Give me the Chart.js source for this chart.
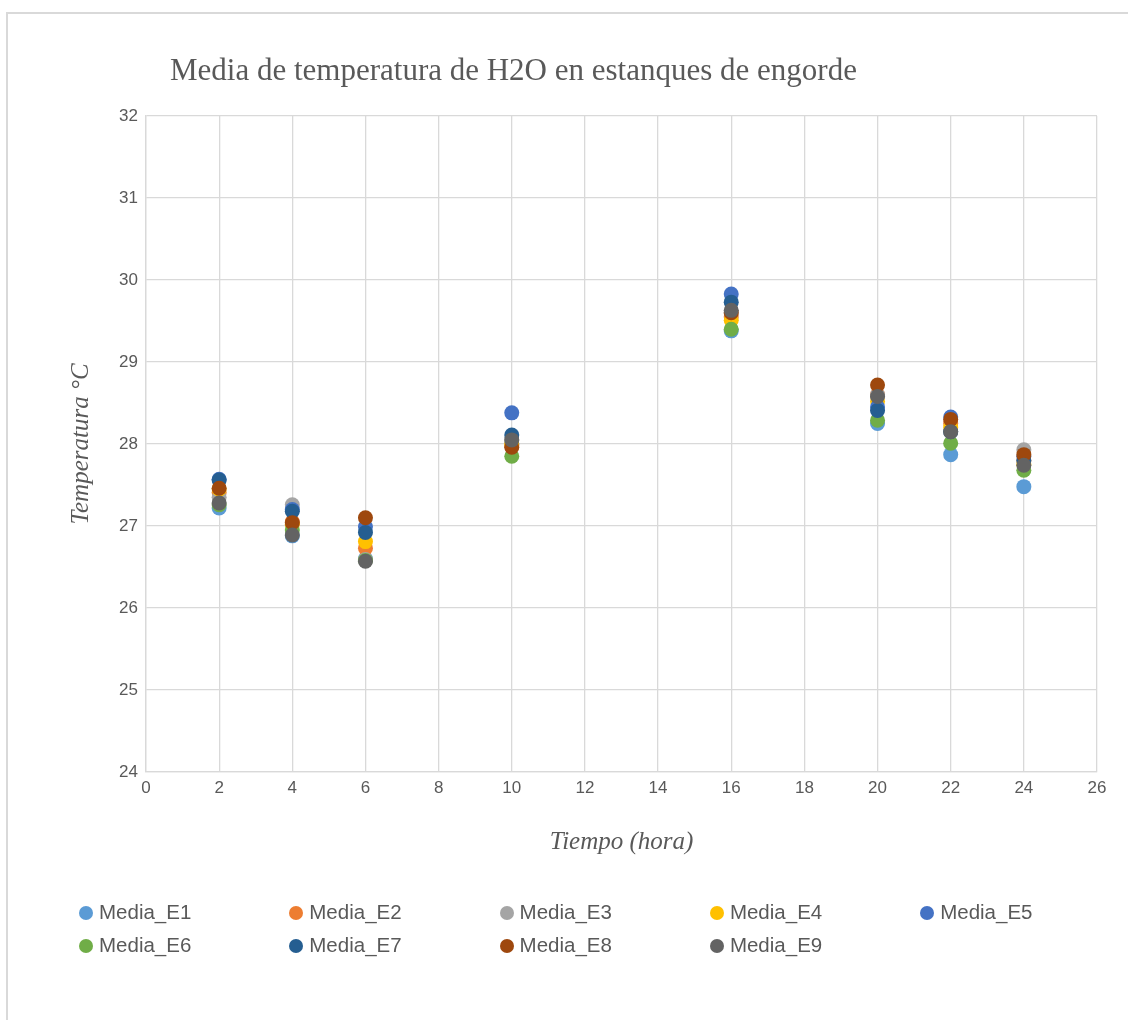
<!DOCTYPE html>
<html lang="es">
<head>
<meta charset="utf-8">
<title>Media de temperatura de H2O en estanques de engorde</title>
<script src="https://cdn.jsdelivr.net/npm/chart.js@4.4.1/dist/chart.umd.min.js"></script>
<style>
  html, body { margin: 0; padding: 0; background: #ffffff; }
  #wrap { position: relative; width: 1128px; height: 1020px; overflow: hidden; }
  #frame { position: absolute; left: 6px; top: 12px; width: 1200px; height: 1100px;
           border-left: 2px solid #d9d9d9; border-top: 2px solid #d9d9d9; box-sizing: border-box; }
  #plot { position: absolute; left: 0; top: 0; width: 1128px; height: 1020px; }
  #title { position: absolute; left: 170px; top: 51px; font-family: "Liberation Serif", "Times New Roman", serif;
           font-size: 31px; line-height: 38px; color: #595959; white-space: nowrap; }
  #legend { position: absolute; left: 79px; top: 897px; width: 1050px;
            font-family: "Liberation Sans", Arial, sans-serif; font-size: 20.5px; color: #595959; }
  .item { position: absolute; white-space: nowrap; line-height: 30px; }
  .dot { display: inline-block; width: 14px; height: 14px; border-radius: 50%; margin-right: 6px; vertical-align: -1px; }
</style>
</head>
<body>
<div id="wrap">
  <div id="frame"></div>
  <canvas id="plot" width="1128" height="1020"></canvas>
  <div id="title">Media de temperatura de H2O en estanques de engorde</div>
  <div id="legend"></div>
</div>
<script>
// Sampling times (hours)
const horas = [2, 4, 6, 10, 16, 20, 22, 24];

// Mean water temperature (°C) per pond
const mediaE1 = [27.22, 26.88, 26.60, 28.00, 29.38, 28.25, 27.87, 27.48];
const mediaE2 = [27.41, 27.05, 26.73, 27.98, 29.55, 28.60, 28.25, 27.80];
const mediaE3 = [27.35, 27.26, 26.59, 28.05, 29.60, 28.60, 28.15, 27.93];
const mediaE4 = [27.45, 27.02, 26.81, 28.00, 29.51, 28.52, 28.20, 27.75];
const mediaE5 = [27.57, 27.20, 26.99, 28.38, 29.83, 28.45, 28.33, 27.85];
const mediaE6 = [27.26, 26.95, 26.58, 27.85, 29.40, 28.29, 28.01, 27.68];
const mediaE7 = [27.56, 27.18, 26.92, 28.11, 29.73, 28.41, 28.15, 27.80];
const mediaE8 = [27.46, 27.04, 27.10, 27.96, 29.60, 28.72, 28.30, 27.87];
const mediaE9 = [27.28, 26.89, 26.57, 28.05, 29.63, 28.58, 28.15, 27.74];

const nombres = ['Media_E1', 'Media_E2', 'Media_E3', 'Media_E4', 'Media_E5',
                 'Media_E6', 'Media_E7', 'Media_E8', 'Media_E9'];
const series = [mediaE1, mediaE2, mediaE3, mediaE4, mediaE5, mediaE6, mediaE7, mediaE8, mediaE9];
const colores = ['#5B9BD5', '#ED7D31', '#A5A5A5', '#FFC000', '#4472C4',
                 '#70AD47', '#255E91', '#9E480E', '#636363'];

const datasets = series.map((vals, i) => ({
  label: nombres[i],
  data: vals.map((v, k) => ({ x: horas[k], y: v })),
  backgroundColor: colores[i],
  borderColor: colores[i],
  borderWidth: 0,
  pointRadius: 7.5,
  pointHoverRadius: 7.5,
  showLine: false,
  order: series.length - i   // later ponds drawn on top
}));

const gris = '#d9d9d9';
const texto = '#595959';

new Chart(document.getElementById('plot'), {
  type: 'scatter',
  data: { datasets },
  options: {
    responsive: false,
    animation: false,
    layout: { padding: { top: 116, right: 31, bottom: 20, left: 0 } },
    plugins: { legend: { display: false }, tooltip: { enabled: false }, title: { display: false } },
    scales: {
      x: {
        type: 'linear', min: 0, max: 26,
        ticks: { stepSize: 2, color: texto, padding: 6, font: { family: 'Liberation Sans', size: 17 } },
        grid: { color: gris, lineWidth: 1.3, drawTicks: false },
        border: { color: gris, width: 1.3 },
        title: { display: true, text: 'Tiempo (hora)', color: texto,
                 font: { family: 'Liberation Serif', size: 25, style: 'italic' }, padding: { top: 0, bottom: 143 } },
        afterFit(scale) { scale.height = 228; }
      },
      y: {
        type: 'linear', min: 24, max: 32,
        ticks: { stepSize: 1, color: texto, padding: 8, font: { family: 'Liberation Sans', size: 17 } },
        grid: { color: gris, lineWidth: 1.3, drawTicks: false },
        border: { color: gris, width: 1.3 },
        title: { display: true, text: 'Temperatura °C', color: texto,
                 font: { family: 'Liberation Serif', size: 25, style: 'italic' }, padding: { top: 66, bottom: 0 } },
        afterFit(scale) { scale.width = 146; }
      }
    }
  }
});

// Legend laid out in five fixed columns, two rows
const legend = document.getElementById('legend');
nombres.forEach((n, i) => {
  const el = document.createElement('div');
  el.className = 'item';
  el.style.left = (i % 5) * 210.3 + 'px';
  el.style.top = Math.floor(i / 5) * 33 + 'px';
  const dot = document.createElement('span');
  dot.className = 'dot';
  dot.style.background = colores[i];
  el.appendChild(dot);
  el.appendChild(document.createTextNode(n));
  legend.appendChild(el);
});
</script>
</body>
</html>
